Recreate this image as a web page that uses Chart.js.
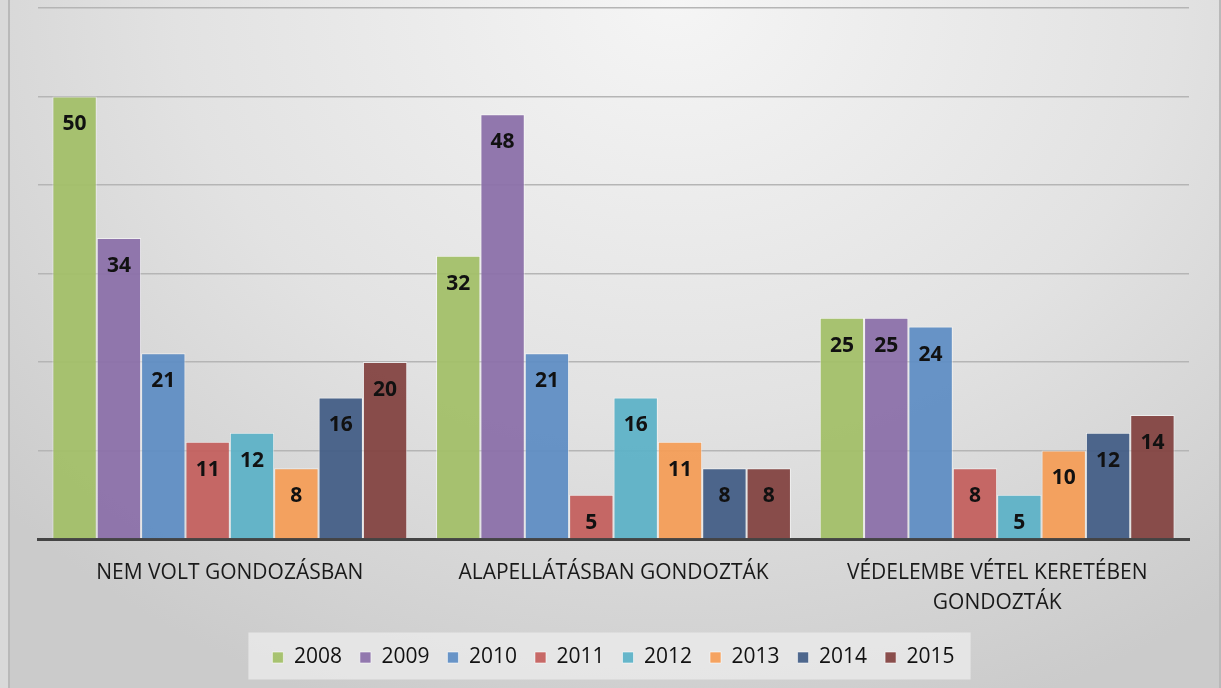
<!DOCTYPE html>
<html>
<head>
<meta charset="utf-8">
<script src="https://cdn.jsdelivr.net/npm/chart.js@4.4.1/dist/chart.umd.min.js"></script>
<style>
  html, body { margin: 0; padding: 0; }
  body { width: 1221px; height: 688px; overflow: hidden; background: #d9d9d9; }
  #frame {
    position: absolute; left: 8px; top: 0; width: 1209px; height: 688px;
    border-left: 2px solid #b9b9b9; border-right: 2px solid #b9b9b9;
    background: radial-gradient(ellipse 75% 110% at 55% 0%, #f5f5f5 0%, #e2e2e2 55%, #cbcbcb 100%);
  }
  #wrap { position: absolute; left: 0; top: 0; width: 1221px; height: 688px; }
</style>
</head>
<body>
<div id="frame"></div>
<div id="wrap"><canvas id="chart"></canvas></div>
<script>
const categories = [
    'NEM VOLT GONDOZÁSBAN',
    'ALAPELLÁTÁSBAN GONDOZTÁK',
    ['VÉDELEMBE VÉTEL KERETÉBEN', 'GONDOZTÁK']
];
const years = ['2008', '2009', '2010', '2011', '2012', '2013', '2014', '2015'];
const values2008 = [50, 32, 25];
const values2009 = [34, 48, 25];
const values2010 = [21, 21, 24];
const values2011 = [11, 5, 8];
const values2012 = [12, 16, 5];
const values2013 = [8, 11, 10];
const values2014 = [16, 8, 12];
const values2015 = [20, 8, 14];
const seriesValues = [values2008, values2009, values2010, values2011, values2012, values2013, values2014, values2015];
const COLORS = ['#a3bf68', '#8b70a9', '#5f8dc3', '#c4605d', '#5cb1c7', '#f49d57', '#435e86', '#834341'];

// value labels inside the top of each bar
const barLabels = {
    id: 'barLabels',
    afterDatasetsDraw(chart) {
        const ctx = chart.ctx;
        ctx.save();
        ctx.font = 'bold 21px "Open Sans", sans-serif';
        ctx.fillStyle = '#111';
        ctx.textAlign = 'center';
        ctx.textBaseline = 'middle';
        chart.data.datasets.forEach((ds, i) => {
            chart.getDatasetMeta(i).data.forEach((bar, j) => {
                ctx.fillText(String(ds.data[j]), bar.x, bar.y + 28);
            });
        });
        ctx.restore();
    }
};

// lighter box behind the legend
const legendBox = {
    id: 'legendBox',
    beforeDraw(chart) {
        const boxes = chart.legend.legendHitBoxes;
        if (!boxes || !boxes.length) return;
        const first = boxes[0], last = boxes[boxes.length - 1];
        const ctx = chart.ctx;
        ctx.save();
        ctx.fillStyle = 'rgba(236,236,236,0.75)';
        ctx.fillRect(first.left - 24, first.top + first.height / 2 - 25, last.left + last.width - first.left + 40, 47);
        ctx.restore();
    }
};

new Chart(document.getElementById('chart'), {
    type: 'bar',
    data: {
        labels: categories,
        datasets: years.map((y, i) => ({
            label: y,
            data: seriesValues[i],
            backgroundColor: COLORS[i] + 'f0',
            borderColor: 'rgba(255,255,255,0.55)',
            borderWidth: 1,
            categoryPercentage: 0.925,
            barPercentage: 1
        }))
    },
    options: {
        responsive: true,
        maintainAspectRatio: false,
        animation: false,
        layout: { padding: { left: 38, right: 32, top: 8, bottom: 10 } },
        scales: {
            x: {
                grid: { display: false, drawTicks: false },
                border: { display: true, color: '#444', width: 3 },
                ticks: {
                    color: '#1a1a1a',
                    font: { family: '"Open Sans", sans-serif', size: 21, lineHeight: 30 / 21 },
                    padding: 19,
                    maxRotation: 0,
                    autoSkip: false
                },
                afterFit: axis => { axis.height -= 8; }
            },
            y: {
                min: 0, max: 60,
                ticks: { display: false, stepSize: 10 },
                border: { display: false },
                grid: { color: '#b5b5b5', lineWidth: 1.5, drawTicks: false }
            }
        },
        plugins: {
            legend: {
                position: 'bottom',
                labels: {
                    boxWidth: 11, boxHeight: 11,
                    padding: 18,
                    color: '#111',
                    font: { family: '"Open Sans", sans-serif', size: 21 }
                }
            },
            tooltip: { enabled: false }
        }
    },
    plugins: [barLabels, legendBox]
});
</script>
</body>
</html>
